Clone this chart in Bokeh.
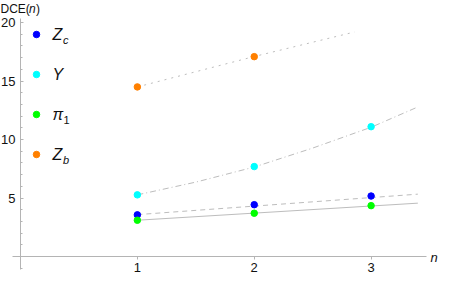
from bokeh.plotting import figure
from bokeh.models import FixedTicker
from bokeh.core.properties import value
from bokeh.embed import file_html
from bokeh.resources import INLINE

# ---- data ----
n_vals = [1, 2, 3]
zc_vals = [3.56, 4.43, 5.17]
y_vals = [5.27, 7.69, 11.1]
pi1_vals = [3.10, 3.70, 4.35]
zb_n = [1, 2]
zb_vals = [14.5, 17.09]

# fitted curves (sampled as seen in the picture)
zc_fit_n = [1, 3.4]
zc_fit = [3.58, 5.33]
pi1_fit_n = [1, 3.4]
pi1_fit = [3.10, 4.56]
y_fit_n = [1, 1.5, 2, 2.5, 3, 3.38]
y_fit = [5.27, 6.36, 7.65, 9.27, 11.05, 12.7]
zb_fit_n = [1, 2, 2.86]
zb_fit = [14.5, 17.1, 19.2]

x_ticks = [1, 2, 3]
y_ticks = [5, 10, 15, 20]
y_minor = [-1, 0, 1, 2, 3, 4, 6, 7, 8, 9, 11, 12, 13, 14, 16, 17, 18, 19, 20]

legend_main = ["Z", "Y", "π", "Z"]
legend_sub = ["c", "", "1", "b"]
colors = ["#0000ff", "#00ffff", "#00ff00", "#ff8000"]

# ---- layout ----
W, H = 442, 277
X0PX, Y0PX = 20.0, 256.0          # pixel position of the origin
SX = (426 - X0PX) / 3.474
SY = (Y0PX - 18) / 20.35
x_start, x_end = -X0PX / SX, (W - X0PX) / SX
y_end, y_start = Y0PX / SY, -(H - Y0PX) / SY


def dx(px):
    return x_start + px / SX


def dy(py):
    return y_end - py / SY


p = figure(width=W, height=H, x_range=(x_start, x_end), y_range=(y_start, y_end),
           output_backend="svg", toolbar_location=None, min_border=0,
           x_axis_location="above")
p.grid.visible = False
p.outline_line_color = None
p.background_fill_color = "white"

xa = p.xaxis[0]
ya = p.yaxis[0]
xa.fixed_location = 0
ya.fixed_location = 0
xa.bounds = (-0.068, 3.474)
ya.bounds = (-1.1, 20.35)
xa.ticker = FixedTicker(ticks=x_ticks, minor_ticks=[])
ya.ticker = FixedTicker(ticks=y_ticks, minor_ticks=y_minor)
AX = "#b4b4b4"
for ax in (xa, ya):
    ax.axis_line_color = AX
    ax.major_tick_line_color = AX
    ax.minor_tick_line_color = AX
    ax.major_tick_in = 3
    ax.major_tick_out = 0
    ax.minor_tick_in = 2
    ax.minor_tick_out = 0
    ax.major_label_text_font = "Liberation Sans"
    ax.major_label_text_font_size = "13px"
    ax.major_label_text_color = "#111111"
    ax.major_label_standoff = 5
xa.minor_tick_line_color = None
# the x axis labels must sit below its line, which crosses at y = 0
xa.major_label_standoff = -15

LC = "#bdbdbd"
p.line(zb_fit_n, zb_fit, line_color=LC, line_width=1, line_dash="2 5")
p.line(y_fit_n, y_fit, line_color=LC, line_width=1, line_dash="6 3 1 3")
p.line(zc_fit_n, zc_fit, line_color=LC, line_width=1, line_dash="5 4")
p.line(pi1_fit_n, pi1_fit, line_color=LC, line_width=1)

for xs, ys, c in [(n_vals, zc_vals, colors[0]), (n_vals, y_vals, colors[1]),
                  (n_vals, pi1_vals, colors[2]), (zb_n, zb_vals, colors[3])]:
    p.scatter(xs, ys, size=6.5, color=c)

# ---- legend ----
leg_py = [34, 74, 114, 154]
leg_x = dx(36)
lab_x = dx(52)
sub_off = [10.5, 0, 11.0, 10.5]
sub_style = ["italic", "normal", "normal", "italic"]
for i in range(4):
    yy = dy(leg_py[i])
    p.scatter([leg_x], [yy], size=6.5, color=colors[i])
    p.text([lab_x], [yy], text=[legend_main[i]], text_font=value("Liberation Sans"),
           text_font_style="italic", text_font_size="16px", text_baseline="middle",
           text_align="left", text_color="#111111")
    if legend_sub[i]:
        p.text([lab_x], [yy], text=[legend_sub[i]], x_offset=sub_off[i], y_offset=5,
               text_font=value("Liberation Sans"), text_font_style=sub_style[i],
               text_font_size="11px", text_baseline="middle", text_align="left",
               text_color="#111111")

# ---- axis titles ----
tx, ty = dx(0), dy(1)
for t, off, st in [("DCE(", 0, "normal"), ("n", 28.5, "italic"), (")", 35.5, "normal")]:
    p.text([tx], [ty], text=[t], x_offset=off, text_font=value("Liberation Sans"),
           text_font_style=st, text_font_size="12px", text_baseline="top",
           text_align="left", text_color="#111111")

p.text([dx(430)], [0], text=["n"], y_offset=1, text_font=value("Liberation Sans"),
       text_font_style="italic", text_font_size="13px", text_baseline="middle",
       text_align="left", text_color="#111111")

open("out.html", "w").write(file_html(p, INLINE))
